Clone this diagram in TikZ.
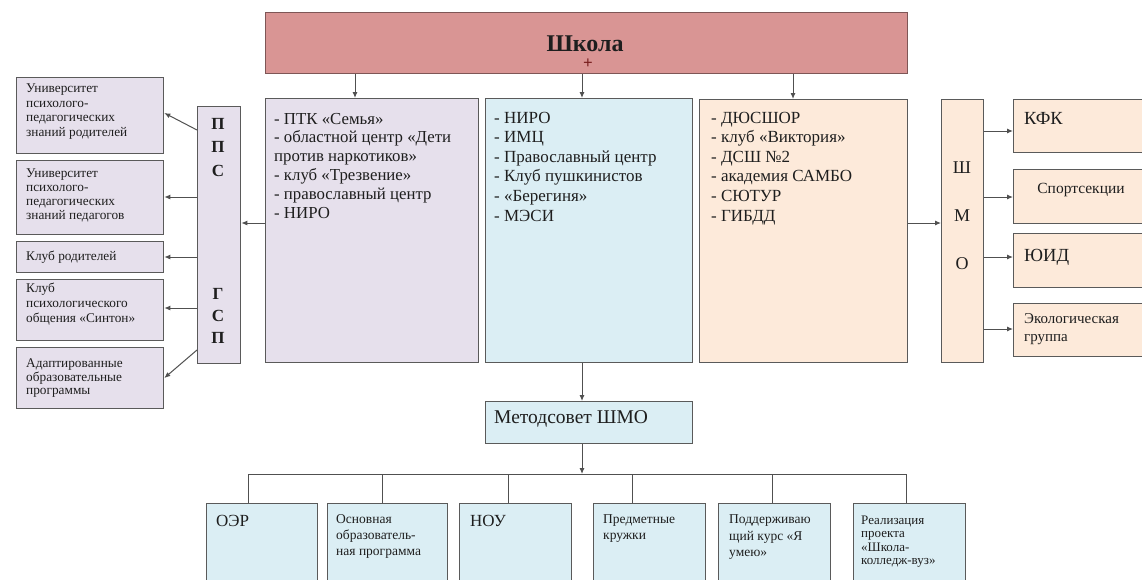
\documentclass[tikz,border=0pt]{standalone}
\usepackage{fontspec}
\setmainfont{Liberation Serif}
\usetikzlibrary{arrows.meta}
\definecolor{schoolfill}{HTML}{D99594}
\definecolor{schoolline}{HTML}{7E5656}
\definecolor{lav}{HTML}{E6E0EC}
\definecolor{lblue}{HTML}{DBEEF4}
\definecolor{peach}{HTML}{FDEADA}
\definecolor{bordercol}{HTML}{5A5A5A}
\definecolor{conncol}{HTML}{505050}
\definecolor{textcol}{HTML}{1E1E1E}
\definecolor{pluscol}{HTML}{7A2020}
\newcommand\mylines[1]{\begin{tabular}[t]{@{}l@{}}#1\end{tabular}}
\newcommand\mylinesc[1]{\begin{tabular}[t]{@{}c@{}}#1\end{tabular}}
\tikzset{
  frame/.style={draw=bordercol, line width=1.3pt, inner sep=0pt, anchor=north west},
  conn/.style={draw=conncol, line width=1pt},
  arr/.style={conn, -{Latex[length=6pt,width=5pt]}},
  txt/.style={anchor=base west, inner sep=0pt, text=textcol},
  txtc/.style={anchor=base, inner sep=0pt, text=textcol},
}
\begin{document}
\begin{tikzpicture}[x=1pt,y=-1pt]
\useasboundingbox (0,0) rectangle (1142,579);
\fill[white] (0,0) rectangle (1142,579);
\clip (0,0) rectangle (1142,579);

% top
\node[frame, draw=schoolline, fill=schoolfill, minimum width=642pt, minimum height=61pt] (school) at (265,12) {};
\node[txtc, font=\fontsize{24}{28}\selectfont\bfseries] (schoolt) at (585,51) {Школа};
\node[inner sep=0pt, text=pluscol, font=\fontsize{17}{20}\selectfont\bfseries] (plus) at (588,63.5) {+};

% main boxes
\node[frame, fill=lav, minimum width=213pt, minimum height=264pt] (b1) at (265,98) {};
\node[frame, fill=lblue, minimum width=207pt, minimum height=264pt] (b2) at (485,98) {};
\node[frame, fill=peach, minimum width=208pt, minimum height=263pt] (b3) at (699,99) {};

\node[txt, font=\fontsize{16.8}{18.8}\selectfont] (b1t) at (274,124) {\mylines{- ПТК «Семья»\\- областной центр «Дети\\против наркотиков»\\- клуб «Трезвение»\\- православный центр\\- НИРО}};
\node[txt, font=\fontsize{17}{19.6}\selectfont] (b2t) at (494,123) {\mylines{- НИРО\\- ИМЦ\\- Православный центр\\- Клуб пушкинистов\\- «Берегиня»\\- МЭСИ}};
\node[txt, font=\fontsize{17}{19.6}\selectfont] (b3t) at (711,123) {\mylines{- ДЮСШОР\\- клуб «Виктория»\\- ДСШ №2\\- академия САМБО\\- СЮТУР\\- ГИБДД}};

% PPS / GSP
\node[frame, fill=lav, minimum width=43pt, minimum height=257pt] (pps) at (197,106) {};
\node[txtc, font=\fontsize{17}{23.5}\selectfont\bfseries] (ppst) at (218,129) {\mylinesc{П\\П\\С}};
\node[txtc, font=\fontsize{17}{22}\selectfont\bfseries] (gspt) at (218,299) {\mylinesc{Г\\С\\П}};

% left boxes
\node[frame, fill=lav, minimum width=147pt, minimum height=76pt] (l1) at (16,77) {};
\node[frame, fill=lav, minimum width=147pt, minimum height=74pt] (l2) at (16,160) {};
\node[frame, fill=lav, minimum width=147pt, minimum height=31pt] (l3) at (16,241) {};
\node[frame, fill=lav, minimum width=147pt, minimum height=61pt] (l4) at (16,279) {};
\node[frame, fill=lav, minimum width=147pt, minimum height=61pt] (l5) at (16,347) {};
\node[txt, font=\fontsize{13.3}{14.7}\selectfont] (l1t) at (26,92.5) {\mylines{Университет\\психолого-\\педагогических\\знаний родителей}};
\node[txt, font=\fontsize{13.3}{14}\selectfont] (l2t) at (26,177.5) {\mylines{Университет\\психолого-\\педагогических\\знаний педагогов}};
\node[txt, font=\fontsize{13.3}{14}\selectfont] (l3t) at (26,260) {Клуб родителей};
\node[txt, font=\fontsize{13.3}{15}\selectfont] (l4t) at (26,292) {\mylines{Клуб\\психологического\\общения «Синтон»}};
\node[txt, font=\fontsize{13.3}{13.7}\selectfont] (l5t) at (26,367.5) {\mylines{Адаптированные\\образовательные\\программы}};

% SHMO
\node[frame, fill=peach, minimum width=42pt, minimum height=263pt] (shmo) at (941,99) {};
\node[txtc, font=\fontsize{18}{48}\selectfont] (shmot) at (962,173.5) {\mylinesc{Ш\\М\\О}};

% right boxes
\node[frame, fill=peach, minimum width=150pt, minimum height=53pt] (r1) at (1013,99) {};
\node[frame, fill=peach, minimum width=150pt, minimum height=54pt] (r2) at (1013,169) {};
\node[frame, fill=peach, minimum width=150pt, minimum height=54pt] (r3) at (1013,233) {};
\node[frame, fill=peach, minimum width=150pt, minimum height=53pt] (r4) at (1013,303) {};
\node[txt, font=\fontsize{18.5}{20}\selectfont] (r1t) at (1024,124.5) {КФК};
\node[txtc, font=\fontsize{15.5}{16}\selectfont] (r2t) at (1081,193) {Спортсекции};
\node[txt, font=\fontsize{18.5}{20}\selectfont] (r3t) at (1024,261.5) {ЮИД};
\node[txt, font=\fontsize{15}{18}\selectfont] (r4t) at (1024,323) {\mylines{Экологическая\\группа}};

% methodsovet
\node[frame, fill=lblue, minimum width=207pt, minimum height=42pt] (met) at (485,401) {};
\node[txt, font=\fontsize{19.5}{21}\selectfont] (mett) at (494,423.5) {Методсовет ШМО};

% bottom boxes
\node[frame, fill=lblue, minimum width=111pt, minimum height=100pt] (c1) at (206,503) {};
\node[frame, fill=lblue, minimum width=120pt, minimum height=100pt] (c2) at (327,503) {};
\node[frame, fill=lblue, minimum width=112pt, minimum height=100pt] (c3) at (459,503) {};
\node[frame, fill=lblue, minimum width=112pt, minimum height=100pt] (c4) at (593,503) {};
\node[frame, fill=lblue, minimum width=112pt, minimum height=100pt] (c5) at (718,503) {};
\node[frame, fill=lblue, minimum width=112pt, minimum height=100pt] (c6) at (853,503) {};
\node[txt, font=\fontsize{17}{18}\selectfont] (c1t) at (216,526) {ОЭР};
\node[txt, font=\fontsize{13.5}{16}\selectfont] (c2t) at (336,523.5) {\mylines{Основная\\образователь-\\ная программа}};
\node[txt, font=\fontsize{17}{18}\selectfont] (c3t) at (470,526) {НОУ};
\node[txt, font=\fontsize{13.5}{16}\selectfont] (c4t) at (603,523.5) {\mylines{Предметные\\кружки}};
\node[txt, font=\fontsize{13.5}{16.5}\selectfont] (c5t) at (729,523.5) {\mylines{Поддерживаю\\щий курс «Я\\умею»}};
\node[txt, font=\fontsize{13}{13.5}\selectfont] (c6t) at (861,524) {\mylines{Реализация\\проекта\\«Школа-\\колледж-вуз»}};

% connectors: school to boxes
\draw[arr] (355,0 |- school.south) -- (355,0 |- b1.north);
\draw[arr] (582,0 |- school.south) -- (582,0 |- b2.north);
\draw[arr] (793,0 |- school.south) -- (793,0 |- b3.north);
% b1 to pps
\draw[arr] (b1.west |- 0,223) -- (pps.east |- 0,223);
% pps to left boxes
\draw[arr] (pps.west |- 0,130) -- (l1.east |- 0,113);
\draw[arr] (pps.west |- 0,197) -- (l2.east |- 0,197);
\draw[arr] (pps.west |- 0,257) -- (l3.east |- 0,257);
\draw[arr] (pps.west |- 0,308) -- (l4.east |- 0,308);
\draw[arr] (pps.west |- 0,350) -- (l5.east |- 0,378);
% b3 to shmo
\draw[arr] (b3.east |- 0,223) -- (shmo.west |- 0,223);
% shmo to right boxes
\draw[arr] (shmo.east |- 0,131) -- (r1.west |- 0,131);
\draw[arr] (shmo.east |- 0,197) -- (r2.west |- 0,197);
\draw[arr] (shmo.east |- 0,257) -- (r3.west |- 0,257);
\draw[arr] (shmo.east |- 0,329) -- (r4.west |- 0,329);
% b2 to methodsovet
\draw[arr] (582,0 |- b2.south) -- (582,0 |- met.north);
% methodsovet to bus
\coordinate (busl) at (248,474);
\coordinate (busr) at (906,474);
\coordinate (busm) at (582,474);
\draw[arr] (582,0 |- met.south) -- (busm);
\draw[conn] (busl) -- (busr);
\draw[conn] (busl) -- (busl |- c1.north);
\draw[conn] (382,474) -- (382,0 |- c2.north);
\draw[conn] (508,474) -- (508,0 |- c3.north);
\draw[conn] (632,474) -- (632,0 |- c4.north);
\draw[conn] (772,474) -- (772,0 |- c5.north);
\draw[conn] (busr) -- (busr |- c6.north);
\end{tikzpicture}
\end{document}
